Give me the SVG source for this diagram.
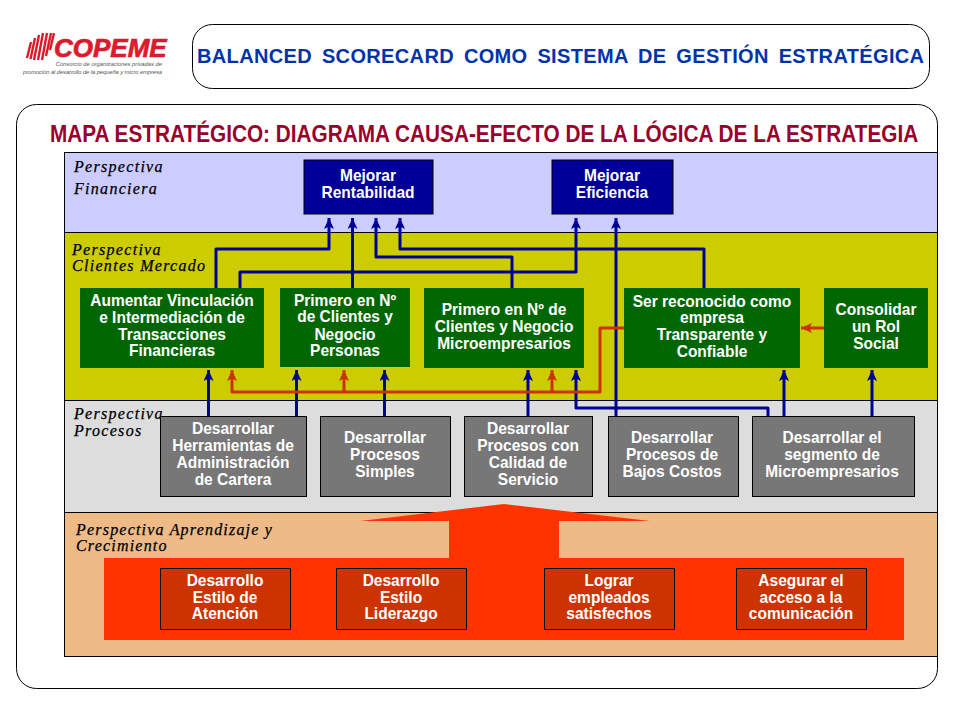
<svg xmlns="http://www.w3.org/2000/svg" width="960" height="720" viewBox="0 0 960 720">
<style>
.frame{fill:#fff;stroke:#000;stroke-width:1}
.band{stroke:#000;stroke-width:1}
.persp{font-family:"Liberation Serif",serif;font-style:italic;font-size:16px;fill:#000;letter-spacing:1.3px;stroke:#000;stroke-width:.25}
.n{font-family:"Liberation Sans",Arial,sans-serif;font-weight:bold;font-size:16px;fill:#fff;text-anchor:middle}
.blue{fill:#000099}.green{fill:#006600}
.gray{fill:#777;stroke:#000;stroke-width:1}
.org{fill:#cc3300;stroke:#000;stroke-width:1}
.cb{fill:none;stroke:#000099;stroke-width:3;stroke-linejoin:round}
.cr{fill:none;stroke:#cc3300;stroke-width:3;stroke-linejoin:round}
</style>
<defs>
<marker id="ab" markerUnits="userSpaceOnUse" markerWidth="12" markerHeight="12" refX="11" refY="5" orient="auto"><path d="M0 0L11 5L0 10L2.500 5Z" fill="#000099"/></marker>
<marker id="ar" markerUnits="userSpaceOnUse" markerWidth="12" markerHeight="12" refX="11" refY="5" orient="auto"><path d="M0 0L11 5L0 10L2.500 5Z" fill="#cc3300"/></marker>
</defs>
<rect width="960" height="720" fill="#fff"/>
<g id="logo">
<path d="M27 58L31 42M30.500 59L35 38M34 60L39 35M38 60L43 33M42 60L47 33M46 56L51 33M50 50L54 33" fill="none" stroke="#dd1a2c" stroke-width="2.400"/>
<text transform="translate(54,57) scale(1.04,1)" x="0" y="0" font-family="Liberation Sans,sans-serif" font-weight="bold" font-style="italic" font-size="25px" fill="#dd1a2c" stroke="#dd1a2c" stroke-width=".7">COPEME</text>
<text x="162" y="66" text-anchor="end" font-family="Liberation Sans,sans-serif" font-style="italic" font-size="5.800px" fill="#555">Consorcio de organizaciones privadas de</text>
<text x="23" y="73.500" font-family="Liberation Sans,sans-serif" font-style="italic" font-size="5.800px" fill="#555" textLength="139">promoción al desarrollo de la pequeña y micro empresa</text>
</g>
<g id="header">
<rect class="frame" x="192.500" y="24.500" width="737" height="64" rx="20"/>
<text x="197" y="63" font-family="Liberation Sans,sans-serif" font-weight="bold" font-size="20px" word-spacing="4" letter-spacing=".35" fill="#0033aa">BALANCED SCORECARD COMO SISTEMA DE GESTIÓN ESTRATÉGICA</text>
</g>
<g id="panel">
<rect class="frame" x="16.500" y="104.500" width="921" height="584" rx="20"/>
<text transform="translate(50,142) scale(.866,1)" font-family="Liberation Sans,sans-serif" font-weight="bold" font-size="24px" fill="#99002b">MAPA ESTRATÉGICO: DIAGRAMA CAUSA-EFECTO DE LA LÓGICA DE LA ESTRATEGIA</text>
</g>
<g id="bands">
<rect class="band" x="64.500" y="152.500" width="873" height="80" fill="#ccccff"/>
<rect class="band" x="64.500" y="232.500" width="873" height="168" fill="#cccc00"/>
<rect class="band" x="64.500" y="400.500" width="873" height="112" fill="#dddddd"/>
<rect class="band" x="64.500" y="512.500" width="873" height="144" fill="#eebb88"/>
<text class="persp" x="74" y="172">Perspectiva</text>
<text class="persp" x="74" y="194">Financiera</text>
<text class="persp" x="72" y="255">Perspectiva</text>
<text class="persp" x="72" y="271">Clientes Mercado</text>
<text class="persp" x="74" y="419">Perspectiva</text>
<text class="persp" x="74" y="436">Procesos</text>
<text class="persp" x="76" y="535" style="letter-spacing:1.2px">Perspectiva Aprendizaje y</text>
<text class="persp" x="76" y="551" style="letter-spacing:1.2px">Crecimiento</text>
</g>
<g id="big-arrow">
<path d="M104 558H449V521H360L504 504L650 521H559V558H904V640H104Z" fill="#ff3300"/>
</g>
<g id="connectors">
<path class="cb" marker-end="url(#ab)" d="M216 288V249H329V218"/>
<path class="cb" marker-end="url(#ab)" d="M240 288V272H576V218"/>
<path class="cb" marker-end="url(#ab)" d="M352.500 288V218"/>
<path class="cb" marker-end="url(#ab)" d="M512 288V257H376V218"/>
<path class="cb" marker-end="url(#ab)" d="M704 288V249H400V218"/>
<path class="cb" marker-end="url(#ab)" d="M616 416V218"/>
<path class="cb" marker-end="url(#ab)" d="M208.500 416V370"/>
<path class="cb" marker-end="url(#ab)" d="M296.500 416V370"/>
<path class="cb" marker-end="url(#ab)" d="M384.500 416V370"/>
<path class="cb" marker-end="url(#ab)" d="M528 416V370"/>
<path class="cb" marker-end="url(#ab)" d="M768 416V408H576V370"/>
<path class="cb" marker-end="url(#ab)" d="M784 416V370"/>
<path class="cb" marker-end="url(#ab)" d="M872 416V370"/>
<path class="cr" marker-end="url(#ar)" d="M624 328H600V392H232V370"/>
<path class="cr" marker-end="url(#ar)" d="M344 392V370"/>
<path class="cr" marker-end="url(#ar)" d="M552 392V370"/>
<path class="cr" marker-end="url(#ar)" d="M824 328H801"/>
</g>
<g id="n-rentabilidad"><rect class="blue" x="304" y="160" width="129" height="54" stroke="#000"/><text class="n" transform="translate(368,0) scale(.97,1)"><tspan x="0" y="181">Mejorar</tspan><tspan x="0" y="198">Rentabilidad</tspan></text></g>
<g id="n-eficiencia"><rect class="blue" x="552" y="160" width="121" height="54" stroke="#000"/><text class="n" transform="translate(612,0) scale(.97,1)"><tspan x="0" y="181">Mejorar</tspan><tspan x="0" y="198">Eficiencia</tspan></text></g>
<g id="n-vinculacion"><rect class="green" x="80" y="288" width="184" height="80"/><text class="n" transform="translate(172,0) scale(.97,1)"><tspan x="0" y="306">Aumentar Vinculación</tspan><tspan x="0" y="323">e Intermediación de</tspan><tspan x="0" y="340">Transacciones</tspan><tspan x="0" y="356">Financieras</tspan></text></g>
<g id="n-personas"><rect class="green" x="280" y="288" width="130" height="79"/><text class="n" transform="translate(345,0) scale(.97,1)"><tspan x="0" y="306">Primero en Nº</tspan><tspan x="0" y="322">de Clientes y</tspan><tspan x="0" y="340">Negocio</tspan><tspan x="0" y="356">Personas</tspan></text></g>
<g id="n-micro"><rect class="green" x="424" y="288" width="160" height="80"/><text class="n" transform="translate(504,0) scale(.97,1)"><tspan x="0" y="315">Primero en Nº de</tspan><tspan x="0" y="332">Clientes y Negocio</tspan><tspan x="0" y="349">Microempresarios</tspan></text></g>
<g id="n-transparente"><rect class="green" x="624" y="288" width="176" height="80"/><text class="n" transform="translate(712,0) scale(.97,1)"><tspan x="0" y="307">Ser reconocido como</tspan><tspan x="0" y="323">empresa</tspan><tspan x="0" y="340">Transparente y</tspan><tspan x="0" y="357">Confiable</tspan></text></g>
<g id="n-social"><rect class="green" x="824" y="288" width="104" height="80"/><text class="n" transform="translate(876,0) scale(.97,1)"><tspan x="0" y="315">Consolidar</tspan><tspan x="0" y="332">un Rol</tspan><tspan x="0" y="349">Social</tspan></text></g>
<g id="n-cartera"><rect class="gray" x="160.500" y="416.500" width="146" height="80"/><text class="n" transform="translate(233,0) scale(.97,1)"><tspan x="0" y="434">Desarrollar</tspan><tspan x="0" y="451">Herramientas de</tspan><tspan x="0" y="468">Administración</tspan><tspan x="0" y="485">de Cartera</tspan></text></g>
<g id="n-simples"><rect class="gray" x="320.500" y="416.500" width="130" height="80"/><text class="n" transform="translate(385,0) scale(.97,1)"><tspan x="0" y="443">Desarrollar</tspan><tspan x="0" y="460">Procesos</tspan><tspan x="0" y="477">Simples</tspan></text></g>
<g id="n-calidad"><rect class="gray" x="464.500" y="416.500" width="128" height="80"/><text class="n" transform="translate(528,0) scale(.97,1)"><tspan x="0" y="434">Desarrollar</tspan><tspan x="0" y="451">Procesos con</tspan><tspan x="0" y="468">Calidad de</tspan><tspan x="0" y="485">Servicio</tspan></text></g>
<g id="n-costos"><rect class="gray" x="608.500" y="416.500" width="130" height="80"/><text class="n" transform="translate(672,0) scale(.97,1)"><tspan x="0" y="443">Desarrollar</tspan><tspan x="0" y="460">Procesos de</tspan><tspan x="0" y="477">Bajos Costos</tspan></text></g>
<g id="n-segmento"><rect class="gray" x="752.500" y="416.500" width="162" height="80"/><text class="n" transform="translate(832,0) scale(.97,1)"><tspan x="0" y="443">Desarrollar el</tspan><tspan x="0" y="460">segmento de</tspan><tspan x="0" y="477">Microempresarios</tspan></text></g>
<g id="n-atencion"><rect class="org" x="160.500" y="568.500" width="130" height="61"/><text class="n" transform="translate(225,0) scale(.97,1)"><tspan x="0" y="586">Desarrollo</tspan><tspan x="0" y="603">Estilo de</tspan><tspan x="0" y="619">Atención</tspan></text></g>
<g id="n-liderazgo"><rect class="org" x="336.500" y="568.500" width="130" height="61"/><text class="n" transform="translate(401,0) scale(.97,1)"><tspan x="0" y="586">Desarrollo</tspan><tspan x="0" y="603">Estilo</tspan><tspan x="0" y="619">Liderazgo</tspan></text></g>
<g id="n-empleados"><rect class="org" x="544.500" y="568.500" width="130" height="61"/><text class="n" transform="translate(609,0) scale(.97,1)"><tspan x="0" y="586">Lograr</tspan><tspan x="0" y="603">empleados</tspan><tspan x="0" y="619">satisfechos</tspan></text></g>
<g id="n-comunicacion"><rect class="org" x="736.500" y="568.500" width="130" height="61"/><text class="n" transform="translate(801,0) scale(.97,1)"><tspan x="0" y="586">Asegurar el</tspan><tspan x="0" y="603">acceso a la</tspan><tspan x="0" y="619">comunicación</tspan></text></g>
</svg>
